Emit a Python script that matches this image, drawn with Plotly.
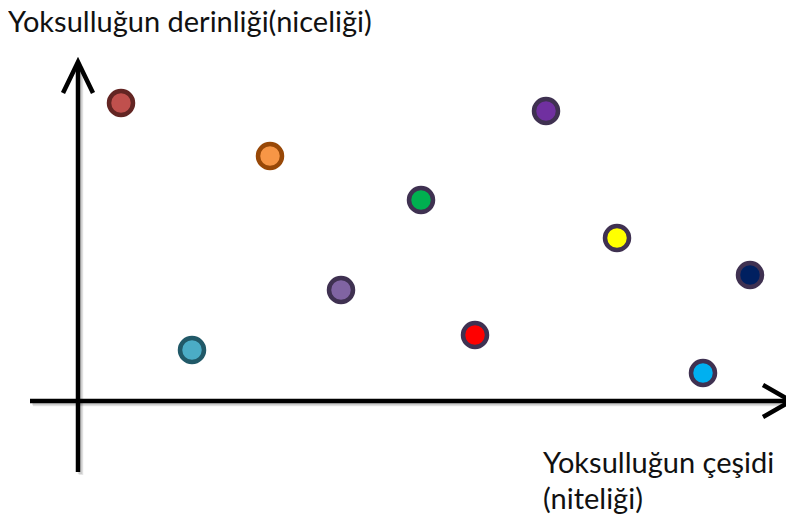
import plotly.graph_objects as go

# Data: positions of the circles (x = type/quality, y = depth/quantity), arbitrary units
point_x = [43, 192, 114, 263, 343, 468, 397, 539, 672, 625]
point_y = [298, 245, 51, 111, 201, 290, 66, 163, 126, 28]
fill_colors = ["#C0504D", "#F79646", "#4BACC6", "#8064A2", "#00B050",
               "#7030A0", "#FF0000", "#FFFF00", "#002060", "#00B0F0"]
edge_colors = ["#632523", "#984807", "#215968", "#3F3151", "#3F3151",
               "#3F3151", "#3F3151", "#3F3151", "#3F3151", "#3F3151"]

y_title = "Yoksulluğun derinliği(niceliği)"
x_title_1 = "Yoksulluğun çeşidi"
x_title_2 = "(niteliği)"

W, H = 794, 524
OFF = 8  # page body margin
X0, Y0 = 78, 401  # origin pixel location on the page

fig = go.Figure()
fig.add_trace(go.Scatter(
    x=point_x, y=point_y, mode="markers",
    marker=dict(size=24, color=fill_colors,
                line=dict(color=edge_colors, width=4.5)),
    hoverinfo="skip", showlegend=False,
))

def px(x):
    return x - X0

def py(y):
    return Y0 - y

shapes = []
lw = 4.5
shadow = "rgba(0,0,0,0.10)"
for d in (2, 3):
    shapes.append(dict(type="line", x0=px(30 + d), y0=py(401 + d), x1=px(788 + d), y1=py(401 + d),
                       line=dict(color=shadow, width=lw)))
    shapes.append(dict(type="line", x0=px(78 + d), y0=py(472 + d), x1=px(78 + d), y1=py(64 + d),
                       line=dict(color=shadow, width=lw)))
# horizontal axis
shapes.append(dict(type="line", x0=px(30), y0=py(401), x1=px(790), y1=py(401),
                   line=dict(color="black", width=lw)))
shapes.append(dict(type="path",
                   path=f"M {px(763)},{py(385)} L {px(791)},{py(401)} L {px(763)},{py(417)}",
                   line=dict(color="black", width=lw)))
# vertical axis
shapes.append(dict(type="line", x0=px(78), y0=py(472), x1=px(78), y1=py(63),
                   line=dict(color="black", width=lw)))
shapes.append(dict(type="path",
                   path=f"M {px(63)},{py(93)} L {px(78)},{py(62)} L {px(93)},{py(93)}",
                   line=dict(color="black", width=lw)))

def ann(text, x, y):
    return dict(text=text, xref="paper", yref="paper",
                x=(x - OFF) / W, y=1 - (y - OFF) / H,
                xanchor="left", yanchor="top", showarrow=False, align="left",
                font=dict(family="Lato", size=29, color="#111111"))

annotations = [
    ann(y_title, 6, 1),
    ann(x_title_1, 541, 442),
    ann(x_title_2, 541, 478),
]

fig.update_layout(
    width=W, height=H,
    margin=dict(l=0, r=0, t=0, b=0),
    paper_bgcolor="white", plot_bgcolor="white",
    xaxis=dict(range=[px(OFF), px(W + OFF)], visible=False, fixedrange=True),
    yaxis=dict(range=[py(H + OFF), py(OFF)], visible=False, fixedrange=True),
    shapes=shapes, annotations=annotations,
)

fig.write_html("out.html")
